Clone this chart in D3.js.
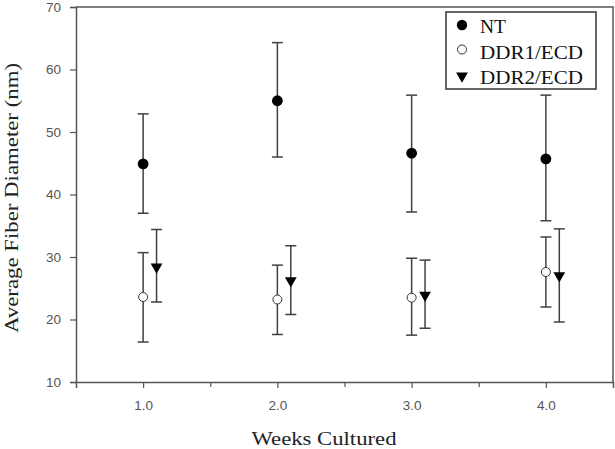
<!DOCTYPE html>
<html>
<head>
<meta charset="utf-8">
<script src="https://cdn.jsdelivr.net/npm/d3@7"></script>
<style>
  body { margin: 0; background: #fff; }
  svg { display: block; }
</style>
</head>
<body>
<svg id="chart" width="615" height="449"></svg>
<script>
// weeks on the x axis, one entry per group
const weeks = [1, 2, 3, 4]

// NT (filled circle)
const ntMean = [44.9, 55.0, 46.6, 45.7]
const ntHigh = [52.9, 64.3, 55.9, 55.9]
const ntLow  = [37.0, 46.0, 37.2, 35.8]

// DDR1/ECD (open circle)
const ddr1Mean = [23.6, 23.2, 23.5, 27.6]
const ddr1High = [30.7, 28.7, 29.8, 33.2]
const ddr1Low  = [16.4, 17.6, 17.5, 22.0]

// DDR2/ECD (down triangle), drawn a bit to the right of the week
const ddr2Mean = [28.4, 26.2, 23.9, 27.0]
const ddr2High = [34.4, 31.8, 29.5, 34.5]
const ddr2Low  = [22.8, 20.8, 18.6, 19.6]

const xTicks = [1, 2, 3, 4]
const xTickLabels = ["1.0", "2.0", "3.0", "4.0"]
const yTicks = [10, 20, 30, 40, 50, 60, 70]

const svg = d3.select("#chart")
const x = d3.scaleLinear().domain([0.5, 4.5]).range([76, 613])
const y = d3.scaleLinear().domain([10, 70]).range([382, 7])

const axisColor = "#555"
const tickFont = "Arial, 'Liberation Sans', sans-serif"
const serif = "'Liberation Serif', 'Times New Roman', serif"

// frame (top + right)
svg.append("path")
    .attr("d", `M${x(0.5)},${y(70)}H${x(4.5)}V${y(10)}`)
    .attr("fill", "none").attr("stroke", axisColor).attr("stroke-width", 1.5)

// y axis
const yAxis = svg.append("g")
    .attr("transform", `translate(${x(0.5)},0)`)
    .call(d3.axisLeft(y).tickValues(yTicks).tickSize(6).tickPadding(9).tickFormat(d3.format("d")))
yAxis.select(".domain").attr("stroke", axisColor).attr("stroke-width", 1.5)
yAxis.selectAll("line").attr("stroke", axisColor).attr("stroke-width", 1.2)
yAxis.selectAll("text").attr("fill", "#555").attr("font-family", tickFont).attr("font-size", 13.5)

// x axis with minor ticks at halves
const xAxis = svg.append("g")
    .attr("transform", `translate(0,${y(10)})`)
    .call(d3.axisBottom(x).tickValues(xTicks).tickSize(6).tickPadding(12)
        .tickFormat((d, i) => xTickLabels[i]))
xAxis.select(".domain").attr("stroke", axisColor).attr("stroke-width", 1.5)
xAxis.selectAll("line").attr("stroke", axisColor).attr("stroke-width", 1.2)
xAxis.selectAll("text").attr("fill", "#555").attr("font-family", tickFont).attr("font-size", 13.5)

svg.append("g")
    .attr("transform", `translate(0,${y(10)})`)
    .call(d3.axisBottom(x).tickValues([1.5, 2.5, 3.5]).tickSize(5).tickFormat(""))
    .call(g => g.select(".domain").remove())
    .selectAll("line").attr("stroke", axisColor).attr("stroke-width", 1.2)

// axis titles (the original lettering is a little stretched, hence textLength)
svg.append("text")
    .attr("x", 324).attr("y", 445)
    .attr("text-anchor", "middle")
    .attr("font-family", serif).attr("font-size", 19).attr("fill", "#222")
    .attr("textLength", 145).attr("lengthAdjust", "spacingAndGlyphs")
    .text("Weeks Cultured")

svg.append("text")
    .attr("transform", `translate(18,198) rotate(-90)`)
    .attr("text-anchor", "middle")
    .attr("font-family", serif).attr("font-size", 19.5).attr("fill", "#222")
    .attr("textLength", 270).attr("lengthAdjust", "spacingAndGlyphs")
    .text("Average Fiber Diameter (nm)")

// error bars
function errorBars(mean, high, low, offset, cap) {
    const g = svg.append("g").attr("stroke", "#404040").attr("stroke-width", 1.5)
    weeks.forEach((w, i) => {
        const cx = x(w + offset)
        g.append("line").attr("x1", cx).attr("x2", cx).attr("y1", y(high[i])).attr("y2", y(low[i]))
        g.append("line").attr("x1", cx - cap).attr("x2", cx + cap).attr("y1", y(high[i])).attr("y2", y(high[i]))
        g.append("line").attr("x1", cx - cap).attr("x2", cx + cap).attr("y1", y(low[i])).attr("y2", y(low[i]))
    })
}
errorBars(ntMean, ntHigh, ntLow, 0, 5.5)
errorBars(ddr1Mean, ddr1High, ddr1Low, 0, 5.5)
errorBars(ddr2Mean, ddr2High, ddr2Low, 0.1, 5.5)

const triangle = d3.symbol().type(d3.symbolTriangle).size(60)

svg.append("g").selectAll("circle")
    .data(weeks)
    .join("circle")
    .attr("cx", d => x(d)).attr("cy", (d, i) => y(ntMean[i])).attr("r", 5.4)
    .attr("fill", "#000")

svg.append("g").selectAll("circle")
    .data(weeks)
    .join("circle")
    .attr("cx", d => x(d)).attr("cy", (d, i) => y(ddr1Mean[i])).attr("r", 4.5)
    .attr("fill", "#fff").attr("stroke", "#333").attr("stroke-width", 1)

svg.append("g").selectAll("path")
    .data(weeks)
    .join("path")
    .attr("d", triangle)
    .attr("transform", (d, i) => `translate(${x(d + 0.1)},${y(ddr2Mean[i])}) rotate(180)`)
    .attr("fill", "#000")

// legend
const legend = svg.append("g").attr("transform", "translate(446,12)")
legend.append("rect").attr("width", 150).attr("height", 77)
    .attr("fill", "#fff").attr("stroke", "#333").attr("stroke-width", 1.5)
const entries = ["NT", "DDR1/ECD", "DDR2/ECD"]
const entryWidth = [26, 103, 103]
entries.forEach((name, i) => {
    const ly = 13 + i * 25.5
    if (i == 0) legend.append("circle").attr("cx", 16).attr("cy", ly).attr("r", 5.2).attr("fill", "#000")
    if (i == 1) legend.append("circle").attr("cx", 16).attr("cy", ly - 1).attr("r", 4.5)
        .attr("fill", "#fff").attr("stroke", "#333")
    if (i == 2) legend.append("path").attr("d", triangle)
        .attr("transform", `translate(16,${ly}) rotate(180)`).attr("fill", "#000")
    legend.append("text").attr("x", 34).attr("y", ly + 8)
        .attr("font-family", serif).attr("font-size", 19).attr("fill", "#111")
        .attr("textLength", entryWidth[i]).attr("lengthAdjust", "spacingAndGlyphs")
        .text(name)
})
</script>
</body>
</html>
